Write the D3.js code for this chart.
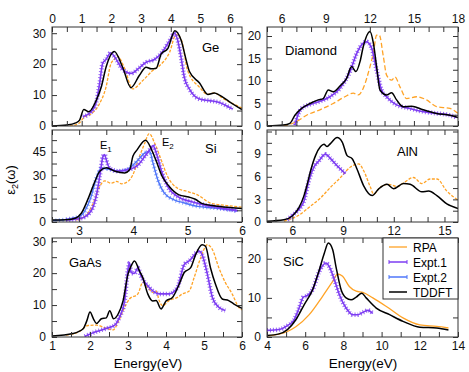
<!DOCTYPE html>
<html>
<head>
<meta charset="utf-8">
<script src="https://cdn.jsdelivr.net/npm/d3@7"></script>
<style>
  body { margin: 0; background: #fff; }
  svg { display: block; font-family: "Liberation Sans", Arial, sans-serif; }
</style>
</head>
<body>
<svg id="chart" width="469" height="372"></svg>
<script>
// ---- data: [energy eV, eps2] ----
const geRpa = [[0.6,0],[0.9,0.8],[1.1,3],[1.3,3.8],[1.6,7.2],[1.82,12.6],[1.98,20],[2.09,21.5],[2.2,22.6],[2.43,19],[2.72,12],[3.05,14.6],[3.39,17.9],[3.62,19.5],[3.96,23.8],[4.18,29.6],[4.35,28],[4.57,17.9],[4.97,12.5],[5.25,10.2],[5.47,10.7],[5.75,9],[6.4,5.8]];
const geExpt1 = [[1.04,3],[1.32,4.6],[1.49,7.7],[1.6,13.5],[1.71,20.4],[1.82,21.5],[1.98,23.7],[2.09,22.6],[2.38,18.3],[2.66,17],[2.94,18.8],[3.17,20.6],[3.45,21.5],[3.73,24.1],[4.01,28.4],[4.12,30],[4.23,27.9],[4.35,22],[4.46,15.6],[4.63,11.9],[4.97,8.7],[5.3,8.2],[5.64,7.6],[5.98,6],[6.09,5.5]];
const geTddft = [[0,0],[0.5,0.3],[0.8,1],[0.93,1.9],[1.07,5.3],[1.24,4.6],[1.49,8.3],[1.66,12.6],[1.82,19],[2.1,24.1],[2.38,19],[2.66,12.4],[2.94,16.3],[3.17,19],[3.34,18.5],[3.51,18.7],[3.68,23.3],[3.9,25],[4.14,30.8],[4.35,27.7],[4.52,21.3],[4.63,17.6],[4.97,13.9],[5.25,10.2],[5.47,10.7],[5.64,10],[5.98,7.8],[6.4,5.3]];

const siRpa = [[2.94,1.3],[3.1,3.4],[3.26,12],[3.38,22.8],[3.47,26.4],[3.59,24.9],[3.69,26],[3.78,24.5],[3.9,26],[3.99,30.3],[4.09,40],[4.21,50.7],[4.29,56.7],[4.39,50.7],[4.51,40],[4.63,29.2],[4.81,21.7],[5.0,19.5],[5.18,17.4],[5.43,12],[5.74,10.5],[6.0,9.5]];
const siExpt1 = [[2.76,1.3],[3.04,2.4],[3.23,7.7],[3.32,17.4],[3.38,29.2],[3.44,42.1],[3.47,43.2],[3.5,39.9],[3.56,34.6],[3.72,32.6],[3.9,33.5],[4.09,36.7],[4.21,42.1],[4.3,46.4],[4.36,49],[4.42,44.3],[4.51,33.5],[4.63,22.8],[4.81,16.4],[5.06,13.1],[5.3,11],[5.55,9.4],[5.92,7.3]];
const siExpt2 = [[2.5,0.8],[2.76,1.7],[3.04,4.3],[3.2,14.2],[3.35,31.3],[3.41,34.6],[3.53,33.9],[3.72,32.6],[3.9,34],[4.09,40],[4.21,44.3],[4.3,45.3],[4.36,37.8],[4.45,27],[4.57,18.5],[4.75,14.2],[4.94,12.2],[5.18,10],[5.49,9],[5.92,7]];
const siTddft = [[2.5,1.3],[2.76,1.5],[2.94,2.6],[3.04,5.6],[3.17,15.3],[3.29,26],[3.38,32.6],[3.5,34.8],[3.66,32.6],[3.84,31.5],[3.93,33.5],[3.99,42.1],[4.07,46.4],[4.22,52.5],[4.41,40],[4.53,29.2],[4.66,22.8],[4.84,17.4],[5.02,16],[5.14,14.6],[5.27,11.8],[5.51,10.3],[5.82,9.2],[6.0,8.6]];

const gaasRpa = [[1.37,0.6],[1.72,1.7],[1.95,3.6],[2.17,3.7],[2.43,2.7],[2.61,2.2],[2.74,4.7],[2.87,8.3],[3.04,11.9],[3.26,13.5],[3.39,17.1],[3.52,15.5],[3.65,14],[3.74,14.4],[3.82,11.4],[3.91,9.8],[4.08,11.4],[4.3,12.4],[4.43,13.5],[4.61,14.4],[4.74,18.6],[4.91,24.7],[5.09,28.9],[5.22,27.4],[5.39,21.7],[5.56,17.1],[5.74,13.5],[5.91,9.4],[6.0,8.5]];
const gaasExpt1 = [[1.86,0.2],[2.17,1.7],[2.43,2.7],[2.65,3.7],[2.78,6.3],[2.91,11.2],[3.0,21.2],[3.04,23.2],[3.08,20.2],[3.17,19.9],[3.26,21.7],[3.34,19.2],[3.56,15.5],[3.82,13.5],[4.08,13.5],[4.3,15.5],[4.48,22.7],[4.61,23.8],[4.87,26.9],[4.95,25.8],[5.09,19.6],[5.22,12.4],[5.39,9.3],[5.56,8.3]];
const gaasTddft = [[1,0.3],[1.55,1.1],[1.82,2.6],[1.92,5.2],[2.0,7.8],[2.09,5.7],[2.17,4.2],[2.3,5.7],[2.43,6],[2.52,8.2],[2.62,5.7],[2.74,7.2],[2.87,11.3],[3.0,19.7],[3.08,22.2],[3.17,23.8],[3.3,20.7],[3.39,18.6],[3.52,13.5],[3.65,11.3],[3.74,11.4],[3.87,8.8],[4.0,11.3],[4.17,12.4],[4.35,16.6],[4.48,20.2],[4.65,21.7],[4.78,25.8],[4.95,28.9],[5.04,28.4],[5.17,21.7],[5.3,16.6],[5.48,11.9],[5.65,11.4],[5.78,10.4],[6.0,9]];

const diaRpa = [[6.1,0],[7.02,1],[7.7,2.4],[8.6,3.6],[9.51,5],[10.3,6.5],[10.87,7.3],[11.21,6.9],[11.55,8.4],[12.01,13.2],[12.24,16.2],[12.46,20.2],[12.64,20.2],[12.92,15.4],[13.14,11.3],[13.48,10.2],[13.71,10.9],[14.05,8.7],[14.5,6.1],[15.18,6.5],[15.86,5.8],[16.54,4.3],[17.45,3.9],[18,2.8]];
const diaExpt1 = [[6.9,0.2],[7.13,2.7],[7.36,3.9],[7.93,4.8],[8.6,5.5],[9.28,6.5],[9.97,8.4],[10.65,12.1],[11.1,16.1],[11.55,18.4],[11.78,18.7],[12.12,17.3],[12.46,12.4],[12.8,8],[13.14,6.5],[13.82,4.7],[14.72,3.9],[15.63,3.2],[16.54,2.8],[17.45,2.4],[17.9,1.9]];
const diaTddft = [[5,0],[6.11,0.2],[6.56,0.6],[6.9,2.4],[7.36,3.9],[7.93,5],[8.49,5.8],[8.83,6.1],[9.17,8],[9.51,7.6],[9.97,8.9],[10.42,10.6],[10.76,13.2],[11.05,12.1],[11.33,14.3],[11.55,17.6],[12.01,21],[12.24,18.4],[12.46,13.2],[12.69,8],[13.14,6.9],[13.48,7.4],[13.82,5.8],[14.27,4.3],[14.84,4.4],[15.63,3.6],[16.54,2.8],[17.45,2.4],[18,1.9]];

const alnRpa = [[5.5,0.1],[6.3,0.8],[7.08,2.1],[7.67,3.2],[8.26,4.6],[8.85,5.9],[9.44,7.3],[9.93,7.7],[10.22,6.8],[10.62,4.6],[10.81,3.7],[11.2,4.6],[11.7,5],[12.19,4.7],[12.58,5.2],[13.17,5.9],[13.66,5.1],[14.15,5.7],[14.55,5.7],[15.14,4.1],[15.8,2.9]];
const alnExpt1 = [[5.7,0.3],[6.0,0.9],[6.39,1.7],[6.69,2.8],[6.98,5.5],[7.28,7.3],[7.57,8.1],[7.96,9],[8.26,8.4],[8.55,7.7],[9.14,6.4]];
const alnTddft = [[4.5,0.1],[5.5,0.3],[6.0,0.8],[6.39,1.9],[6.69,3.5],[6.88,5],[7.08,6.8],[7.37,8.8],[7.67,10],[7.87,10.3],[8.06,10],[8.25,10.4],[8.65,11.2],[8.95,10.6],[9.24,8.8],[9.54,8.4],[9.83,7],[10.22,4.8],[10.72,3.5],[11.11,4.4],[11.6,5],[11.99,4.4],[12.58,5.1],[12.97,5],[13.66,4],[14.06,4.1],[14.55,3.5],[15.14,2.4],[15.8,1.8]];

const sicRpa = [[4,0.2],[5.07,1.4],[5.51,2.6],[6.21,5.7],[6.91,10.4],[7.44,14.2],[7.7,16.1],[7.96,15.5],[8.31,12.9],[8.67,11.7],[9.02,11.4],[9.54,10],[10.25,7.8],[11.12,4.9],[12.0,3.1],[12.88,2.7],[13.5,2.3]];
const sicExpt1 = [[4,1.7],[4.63,1.9],[5.07,2.9],[5.42,4.4],[5.68,7.4],[5.9,10.2],[6.12,10.6],[6.39,12.1],[6.74,16.8],[7.09,18.9],[7.26,18],[7.53,14.6],[7.79,10.8],[8.14,7.4],[8.49,5.7],[8.75,5.7],[9.02,6.3],[9.28,6.8],[9.54,6]];
const sicTddft = [[4,0.4],[4.63,0.8],[5.07,1.9],[5.51,4.4],[5.95,8.3],[6.39,12.1],[6.74,17.2],[7.0,21.4],[7.21,24],[7.44,22.3],[7.61,18],[7.88,12.1],[8.14,10],[8.4,9.5],[8.67,10.2],[8.96,11.2],[9.19,10],[9.72,7.4],[10.42,5.7],[11.12,4],[12.0,2.5],[12.88,2.3],[13.5,1.8]];

// tick labels
const geXTicks = [0,1,2,3,4,5,6], geYTicks = [0,10,20,30];
const siXTicks = [3,4,5,6], siYTicks = [0,15,30,45];
const gaasXTicks = [1,2,3,4,5,6], gaasYTicks = [0,10,20,30];
const diaXTicks = [6,9,12,15,18], diaYTicks = [0,5,10,15,20];
const alnXTicks = [6,9,12,15], alnYTicks = [0,3,6,9];
const sicXTicks = [4,6,8,10,12,14], sicYTicks = [0,10,20];

const legendNames = ["RPA", "Expt.1", "Expt.2", "TDDFT"];

const orange = "#ffa326", purple = "#7d3cf2", blue = "#4f76fa";

const svg = d3.select("#chart");

let panels = [
  { name: "Ge", box: [52, 242, 27, 126], xd: [0, 6.4], yd: [0, 32], xt: geXTicks, xm: 0.5, yt: geYTicks, ym: 5,
    xLab: "top", lab: [202, 52], rpa: geRpa, e1: geExpt1, td: geTddft, dash: "3,1.5" },
  { name: "Si", box: [52, 242, 130, 222], xd: [2.5, 6], yd: [0, 59], xt: siXTicks, xm: 0.5, yt: siYTicks, ym: 7.5,
    xLab: "bottom", lab: [205, 153], rpa: siRpa, e1: siExpt1, e2: siExpt2, td: siTddft, dash: "3,1.5" },
  { name: "GaAs", box: [52, 242, 238, 337], xd: [1, 6], yd: [0, 31], xt: gaasXTicks, xm: 0.5, yt: gaasYTicks, ym: 5,
    xLab: "bottom", lab: [69, 267], rpa: gaasRpa, e1: gaasExpt1, td: gaasTddft, dash: "3,1.5" },
  { name: "Diamond", box: [267, 458, 27, 126], xd: [5, 18], yd: [0, 22], xt: diaXTicks, xm: 1, yt: diaYTicks, ym: 2.5,
    xLab: "top", lab: [285, 55], rpa: diaRpa, e1: diaExpt1, td: diaTddft, dash: "5,2.5" },
  { name: "AlN", box: [267, 458, 130, 222], xd: [4.5, 15.8], yd: [0, 12.2], xt: alnXTicks, xm: 1, yt: alnYTicks, ym: 1.5,
    xLab: "bottom", lab: [397, 156], rpa: alnRpa, e1: alnExpt1, td: alnTddft, dash: "3,1.5" },
  { name: "SiC", box: [267, 458, 238, 337], xd: [4, 14], yd: [0, 25.3], xt: sicXTicks, xm: 1, yt: sicYTicks, ym: 5,
    xLab: "bottom", lab: [283, 266], rpa: sicRpa, e1: sicExpt1, td: sicTddft, dash: null }
];

function ticksFrom(d, step) {
  let out = [];
  let v = Math.ceil(d[0] / step - 1e-9) * step;
  for (; v <= d[1] + 1e-9; v += step) out.push(+v.toFixed(4));
  return out;
}

function drawPanel(p, i) {
  let [x0, x1, y0, y1] = p.box;
  let x = d3.scaleLinear().domain(p.xd).range([x0, x1]);
  let y = d3.scaleLinear().domain(p.yd).range([y1, y0]);
  let line = d3.line().x(d => x(d[0])).y(d => y(d[1])).curve(d3.curveMonotoneX);

  svg.append("clipPath").attr("id", "clip" + i)
    .append("rect").attr("x", x0).attr("y", y0).attr("width", x1 - x0).attr("height", y1 - y0);

  let g = svg.append("g").attr("clip-path", "url(#clip" + i + ")");

  g.append("path").attr("d", line(p.rpa)).attr("fill", "none")
    .attr("stroke", orange).attr("stroke-width", 1.3)
    .attr("stroke-dasharray", p.dash);

  if (p.e2) {
    g.append("path").attr("d", line(p.e2)).attr("fill", "none")
      .attr("stroke", blue).attr("stroke-width", 1.4);
    g.append("path").attr("d", line(p.e2)).attr("fill", "none")
      .attr("stroke", blue).attr("stroke-width", 4).attr("stroke-dasharray", "1,2.5").attr("opacity", 0.7);
  }

  g.append("path").attr("d", line(p.e1)).attr("fill", "none")
    .attr("stroke", purple).attr("stroke-width", 1.6);
  g.append("path").attr("d", line(p.e1)).attr("fill", "none")
    .attr("stroke", purple).attr("stroke-width", 4.5).attr("stroke-dasharray", "1,2").attr("opacity", 0.8);

  g.append("path").attr("d", line(p.td)).attr("fill", "none")
    .attr("stroke", "#000").attr("stroke-width", 1.5);

  // axes (ticks point inward)
  let xAll = ticksFrom(p.xd, p.xm), yAll = ticksFrom(p.yd, p.ym);
  let fmt = lab => (v => (lab && p.xt.includes(v)) ? v : "");
  let yfmt = v => p.yt.includes(v) ? v : "";

  let axes = [
    [d3.axisBottom(x).tickFormat(fmt(p.xLab === "bottom")), y1, xAll],
    [d3.axisTop(x).tickFormat(fmt(p.xLab === "top")), y0, xAll]
  ];
  axes.forEach(([ax, yy, vals]) => {
    svg.append("g").attr("transform", "translate(0," + yy + ")")
      .call(ax.tickValues(vals).tickSize(-5).tickPadding(4))
      .call(s => s.select(".domain").remove());
  });
  svg.append("g").attr("transform", "translate(" + x0 + ",0)")
    .call(d3.axisLeft(y).tickValues(yAll).tickFormat(yfmt).tickSize(-5).tickPadding(6))
    .call(s => s.select(".domain").remove());
  svg.append("g").attr("transform", "translate(" + x1 + ",0)")
    .call(d3.axisRight(y).tickValues(yAll).tickFormat("").tickSize(-5))
    .call(s => s.select(".domain").remove());

  svg.append("rect").attr("x", x0).attr("y", y0).attr("width", x1 - x0).attr("height", y1 - y0)
    .attr("fill", "none").attr("stroke", "#333").attr("stroke-width", 1);

  svg.append("text").attr("x", p.lab[0]).attr("y", p.lab[1])
    .attr("font-size", 13).text(p.name);
}

panels.forEach(drawPanel);

svg.selectAll(".tick text").attr("font-size", 12).attr("font-family", "Liberation Sans, Arial, sans-serif").attr("fill", "#111");
svg.selectAll(".tick line").attr("stroke", "#333");

// E1 / E2 markers on Si
[["E", "1", 100, 149], ["E", "2", 162, 146]].forEach(([t, s, tx, ty]) => {
  let txt = svg.append("text").attr("x", tx).attr("y", ty).attr("font-size", 11).text(t);
  txt.append("tspan").attr("font-size", 8).attr("dy", 3).text(s);
});

// y label
let yl = svg.append("text").attr("transform", "translate(15,180) rotate(-90)")
  .attr("text-anchor", "middle").attr("font-size", 13).text("\u03b5");
yl.append("tspan").attr("font-size", 9).attr("dy", 3).text("2");
yl.append("tspan").attr("dy", -3).text("(\u03c9)");

// x labels
[148, 363].forEach(cx => {
  svg.append("text").attr("x", cx).attr("y", 368).attr("text-anchor", "middle")
    .attr("font-size", 13.5).text("Energy(eV)");
});

// legend
let lg = svg.append("g");
lg.append("rect").attr("x", 383).attr("y", 238).attr("width", 75).attr("height", 61)
  .attr("fill", "#fff").attr("stroke", "#333").attr("stroke-width", 1);
let lcol = [orange, purple, blue, "#000"];
legendNames.forEach((n, k) => {
  let ly = 247 + k * 15;
  lg.append("line").attr("x1", 389).attr("x2", 407).attr("y1", ly).attr("y2", ly)
    .attr("stroke", lcol[k]).attr("stroke-width", k === 0 ? 1.3 : 1.5);
  if (k === 1 || k === 2) {
    [389, 407].forEach(ex => lg.append("line").attr("x1", ex).attr("x2", ex)
      .attr("y1", ly - 2).attr("y2", ly + 2).attr("stroke", lcol[k]).attr("stroke-width", 1));
  }
  lg.append("text").attr("x", 413).attr("y", ly + 4.5).attr("font-size", 12).text(n);
});
</script>
</body>
</html>
